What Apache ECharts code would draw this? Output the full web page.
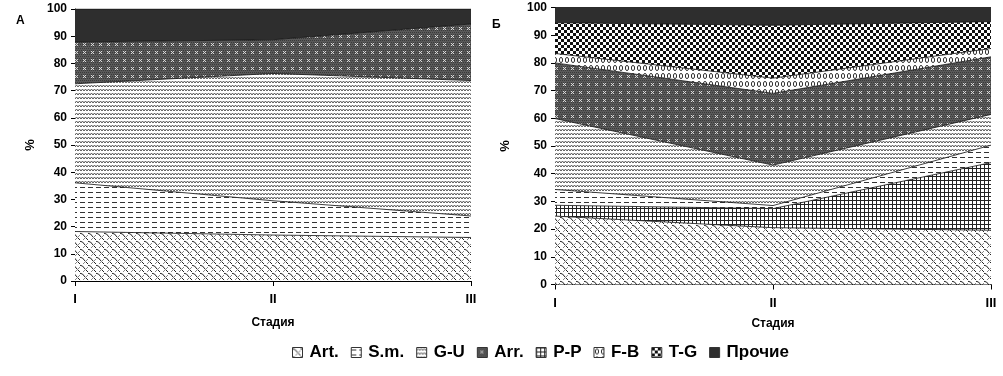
<!DOCTYPE html>
<html><head><meta charset="utf-8">
<script src="https://cdn.jsdelivr.net/npm/echarts@6/dist/echarts.min.js"></script>
<style>html,body{margin:0;padding:0;background:#fff}#c{width:1003px;height:376px}</style>
</head><body><div id="c"></div>
<script>
// ---- data ----
const categories = ['I', 'II', 'III'];
const yTicks = [0, 10, 20, 30, 40, 50, 60, 70, 80, 90, 100];
const seriesNames = ['Art.', 'S.m.', 'G-U', 'Arr.', 'P-P', 'F-B', 'T-G', 'Прочие'];
// Panel A (bottom-up: Art., S.m., G-U, Arr., Прочие)
const artA = [18.2, 16.9, 16.0];
const smA = [17.9, 12.6, 7.9];
const guA = [36.4, 46.8, 49.8];
const arrA = [15.4, 12.4, 20.8];
const otherA = [12.1, 11.3, 5.5];
// Panel Б (bottom-up: Art., P-P, S.m., G-U, Arr., F-B, T-G, Прочие)
const artB = [24.7, 20.5, 19.6];
const ppB = [3.9, 6.9, 24.4];
const smB = [5.7, 1.1, 6.3];
const guB = [25.6, 14.6, 11.1];
const arrB = [20.1, 25.9, 20.8];
const fbB = [3.4, 5.5, 3.0];
const tgB = [11.1, 19.1, 9.7];
const otherB = [5.5, 6.4, 5.1];

// ---- patterns ----
function tile(w, h, draw) {
  const c = document.createElement('canvas');
  c.width = w; c.height = h;
  const g = c.getContext('2d');
  draw(g, w, h);
  return { image: c, repeat: 'repeat' };
}
const pats = {
  'Art.': tile(8, 8, (g) => {
    g.fillStyle = '#fff'; g.fillRect(0, 0, 8, 8);
    g.strokeStyle = '#222'; g.lineWidth = 1;
    g.beginPath(); g.moveTo(-1, 1); g.quadraticCurveTo(3, 1, 5, 5); g.lineTo(9, 9); g.stroke();
    g.strokeStyle = '#888';
    g.beginPath(); g.moveTo(3, 8); g.lineTo(8, 3); g.stroke();
  }),
  'S.m.': tile(8, 5, (g) => {
    g.fillStyle = '#fff'; g.fillRect(0, 0, 8, 5);
    g.fillStyle = '#333'; g.fillRect(0, 2, 5, 1);
  }),
  'G-U': tile(6, 4, (g) => {
    g.fillStyle = '#fff'; g.fillRect(0, 0, 6, 4);
    g.strokeStyle = '#555'; g.lineWidth = 1;
    g.beginPath(); g.moveTo(0, 3); g.lineTo(1.5, 1); g.lineTo(3, 3); g.lineTo(4.5, 1); g.lineTo(6, 3); g.stroke();
  }),
  'Arr.': tile(8, 8, (g) => {
    g.fillStyle = '#595959'; g.fillRect(0, 0, 8, 8);
    g.fillStyle = '#3a3a3a';
    for (let y = 0; y < 8; y += 2) for (let x = (y / 2) % 2; x < 8; x += 2) g.fillRect(x, y, 1, 1);
    g.fillStyle = '#d8d8d8';
    g.fillRect(3, 3, 1, 1); g.fillRect(5, 5, 1, 1); g.fillRect(3, 5, 1, 1); g.fillRect(5, 3, 1, 1); g.fillRect(4, 4, 1, 1);
  }),
  'P-P': tile(4, 4, (g) => {
    g.fillStyle = '#fff'; g.fillRect(0, 0, 4, 4);
    g.fillStyle = '#222'; g.fillRect(0, 0, 1, 4); g.fillRect(0, 0, 4, 1);
  }),
  'F-B': tile(6, 8, (g) => {
    g.fillStyle = '#fff'; g.fillRect(0, 0, 6, 8);
    g.strokeStyle = '#333'; g.lineWidth = 1;
    g.beginPath(); g.ellipse(3, 4, 1.6, 2.6, 0, 0, Math.PI * 2); g.stroke();
  }),
  'T-G': tile(6, 6, (g) => {
    g.fillStyle = '#fff'; g.fillRect(0, 0, 6, 6);
    g.fillStyle = '#111'; g.fillRect(0, 0, 3, 3); g.fillRect(3, 3, 3, 3);
  }),
  'Прочие': '#2e2e2e'
};

function mk(name, data, idx) {
  return {
    name: name, type: 'line', stack: 'p' + idx, xAxisIndex: idx, yAxisIndex: idx,
    data: data, symbol: 'none', smooth: false,
    lineStyle: { width: 1, color: '#111', opacity: 0.8 },
    itemStyle: { color: pats[name] },
    areaStyle: { color: pats[name], opacity: 1 },
    emphasis: { disabled: true }, silent: true, z: 2
  };
}

const fontFam = 'Arial, "Liberation Sans", sans-serif';
function xAx(idx, gap) {
  return {
    type: 'category', gridIndex: idx, data: categories, boundaryGap: false,
    axisLine: { lineStyle: { color: '#000', width: 1 } },
    axisTick: { alignWithLabel: true, length: 5, lineStyle: { color: '#000' } },
    axisLabel: { color: '#000', fontWeight: 'bold', fontSize: 13, fontFamily: fontFam, margin: 12 },
    name: 'Стадия', nameLocation: 'middle', nameGap: gap,
    nameTextStyle: { color: '#000', fontWeight: 'bold', fontSize: 12, fontFamily: fontFam },
    splitLine: { show: false }
  };
}
function yAx(idx, gap) {
  return {
    type: 'value', gridIndex: idx, min: yTicks[0], max: yTicks[yTicks.length - 1], interval: 10,
    axisLine: { show: true, lineStyle: { color: '#000', width: 1 } },
    axisTick: { show: true, length: 4, lineStyle: { color: '#000' } },
    axisLabel: { color: '#000', fontWeight: 'bold', fontSize: 12, fontFamily: fontFam, margin: 8 },
    splitLine: { show: false },
    name: '%', nameLocation: 'middle', nameGap: gap, nameRotate: 90,
    nameTextStyle: { color: '#000', fontWeight: 'bold', fontSize: 13, fontFamily: fontFam }
  };
}

const series = [
  mk('Art.', artA, 0), mk('S.m.', smA, 0), mk('G-U', guA, 0), mk('Arr.', arrA, 0), mk('Прочие', otherA, 0),
  mk('Art.', artB, 1), mk('P-P', ppB, 1), mk('S.m.', smB, 1), mk('G-U', guB, 1), mk('Arr.', arrB, 1),
  mk('F-B', fbB, 1), mk('T-G', tgB, 1), mk('Прочие', otherB, 1)
];

const chart = echarts.init(document.getElementById('c'), null, { renderer: 'canvas' });
chart.setOption({
  animation: false,
  backgroundColor: '#fff',
  grid: [
    { left: 75, top: 9, width: 396, height: 272 },
    { left: 555, top: 7.5, width: 436, height: 277 }
  ],
  xAxis: [xAx(0, 36), xAx(1, 33)],
  yAxis: [yAx(0, 38), yAx(1, 43)],
  legend: {
    data: seriesNames, left: 287, top: 339, icon: 'rect', itemWidth: 10, itemHeight: 10,
    itemGap: 12, selectedMode: false,
    itemStyle: { borderColor: '#333', borderWidth: 1 },
    textStyle: { color: '#000', fontWeight: 'bold', fontSize: 17, fontFamily: fontFam, padding: [0, 0, 0, 2] }
  },
  graphic: [
    { type: 'text', left: 16, top: 15, style: { text: 'А', fill: '#000', font: 'bold 12px ' + fontFam } },
    { type: 'text', left: 492, top: 19, style: { text: 'Б', fill: '#000', font: 'bold 12px ' + fontFam } }
  ],
  series: series
});
</script></body></html>
